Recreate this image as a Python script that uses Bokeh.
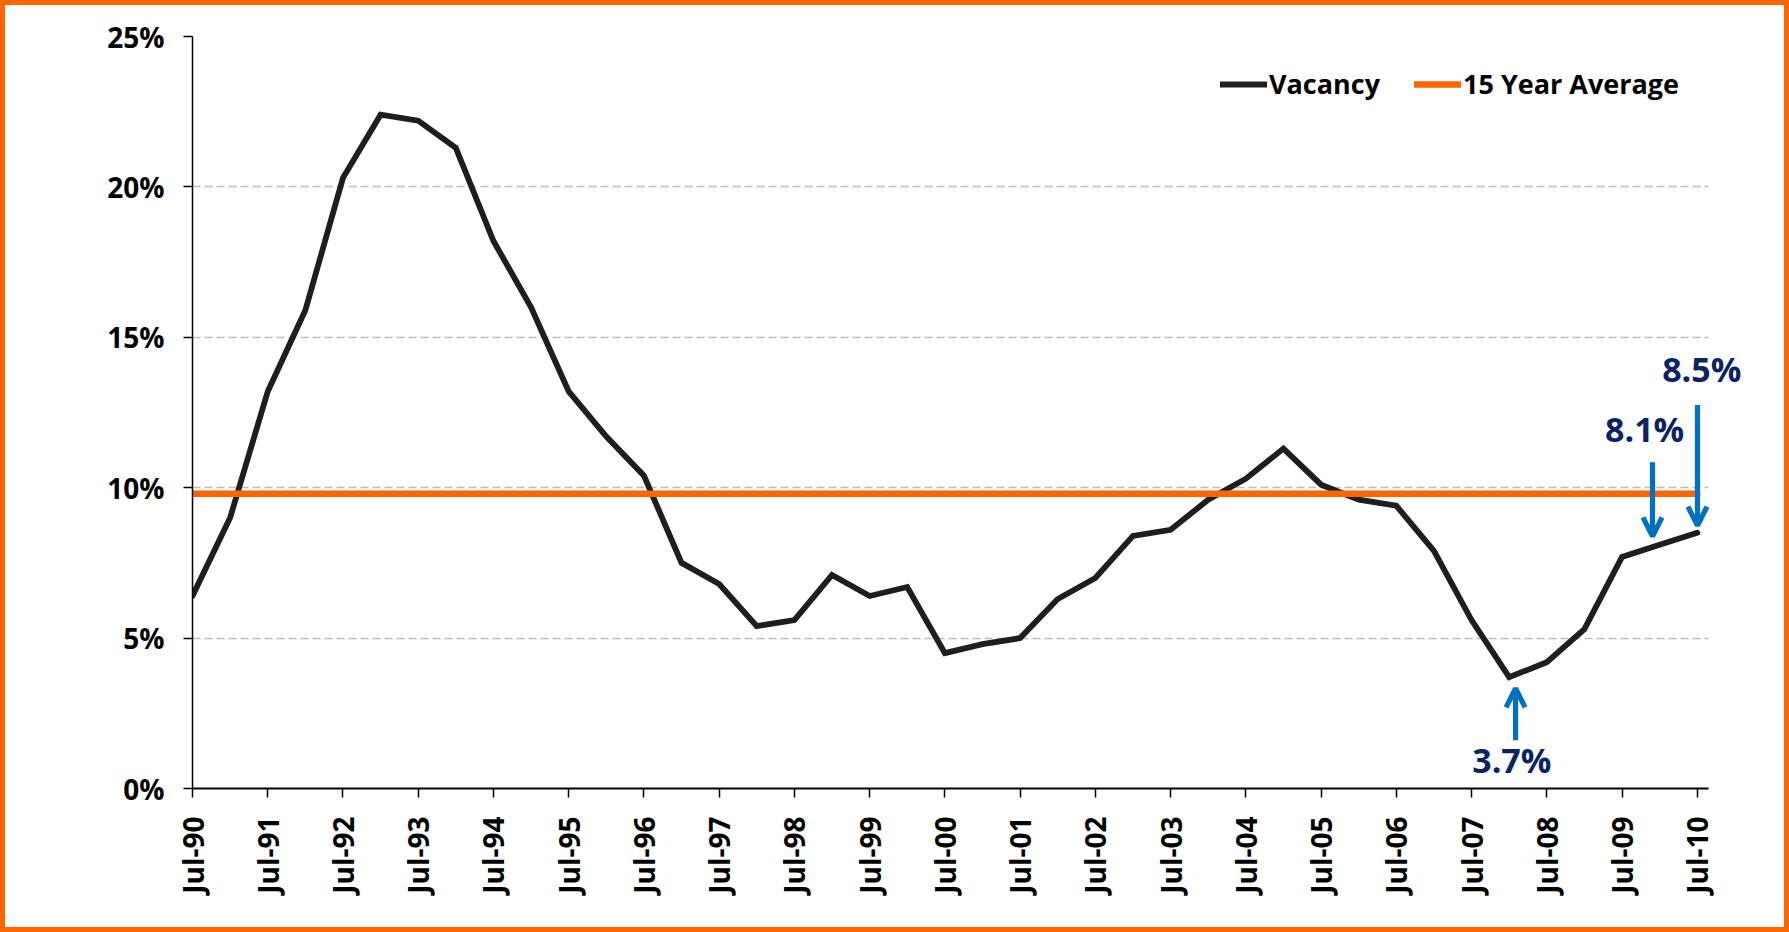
import math
from bokeh.plotting import figure
from bokeh.models import (Range1d, FixedTicker, PrintfTickFormatter, Legend, LegendItem,
                          Arrow, OpenHead, Label)
from bokeh.embed import file_html
from bokeh.resources import INLINE

# ---- data -------------------------------------------------------------
tick_labels = ["Jul-90", "Jul-91", "Jul-92", "Jul-93", "Jul-94", "Jul-95", "Jul-96",
               "Jul-97", "Jul-98", "Jul-99", "Jul-00", "Jul-01", "Jul-02", "Jul-03",
               "Jul-04", "Jul-05", "Jul-06", "Jul-07", "Jul-08", "Jul-09", "Jul-10"]
# semi-annual readings, Jul-90 .. Jul-10 (%)
vacancy = [6.4, 9.0, 13.2, 15.9, 20.3, 22.4, 22.2, 21.3, 18.2, 16.0,
           13.2, 11.7, 10.4, 7.5, 6.8, 5.4, 5.6, 7.1, 6.4, 6.7,
           4.5, 4.8, 5.0, 6.3, 7.0, 8.4, 8.6, 9.6, 10.3, 11.3,
           10.1, 9.6, 9.4, 7.9, 5.6, 3.7, 4.2, 5.3, 7.7, 8.1, 8.5]
average_15yr = 9.8
y_ticks = [0, 5, 10, 15, 20, 25]
# callouts: (index of point, direction of arrow)
callouts = [(35, "up"), (39, "down"), (40, "down")]

# ---- styling ------------------------------------------------------------
FONT = "Open Sans"
BLACK = "#1E1E1E"
ORANGE = "#FF6600"
ARROW_BLUE = "#0070C0"
NAVY = "#0B2461"

x = [i * 0.5 for i in range(len(vacancy))]
axis_end = x[-1] + 0.15

p = figure(frame_width=1580, frame_height=752,
           x_range=Range1d(0, 21.0), y_range=Range1d(0, 25),
           output_backend="svg", toolbar_location=None,
           min_border_left=187, min_border_right=12,
           min_border_top=31, min_border_bottom=139)
p.styles = {"border": "5px solid " + ORANGE}
p.outline_line_color = None
p.background_fill_color = "white"
p.border_fill_color = "white"

# grid
p.xgrid.grid_line_color = None
p.ygrid.grid_line_color = "#BFBFBF"
p.ygrid.grid_line_dash = "8 4"
p.ygrid.grid_line_width = 1.5
try:
    p.ygrid.cross_bounds = (0, axis_end)
except Exception:
    pass

# axes
p.yaxis.ticker = FixedTicker(ticks=y_ticks)
p.yaxis.formatter = PrintfTickFormatter(format="%d%%")
p.xaxis.ticker = FixedTicker(ticks=list(range(len(tick_labels))))
p.xaxis.major_label_overrides = {i: lab for i, lab in enumerate(tick_labels)}
p.xaxis.major_label_orientation = math.pi / 2
p.xaxis.bounds = (0, axis_end)
for ax in (p.xaxis, p.yaxis):
    ax.axis_line_color = "black"
    ax.major_tick_line_color = "black"
    ax.major_tick_line_width = 1.5
    ax.major_tick_out = 9
    ax.major_tick_in = 0
    ax.minor_tick_line_color = None
    ax.major_label_text_font = FONT
    ax.major_label_text_font_style = "bold"
    ax.major_label_text_font_size = "28px"
    ax.major_label_text_color = "black"
    ax.major_label_standoff = 19
p.yaxis.axis_line_width = 1.5
p.xaxis.axis_line_width = 2

# series
r_vac = p.line(x, vacancy, line_width=5.8, line_color=BLACK,
               line_join="miter", line_cap="round")
r_avg = p.line([x[0], x[-1]], [average_15yr, average_15yr], line_width=6.5,
               line_color=ORANGE, line_cap="round")

legend = Legend(items=[LegendItem(label="Vacancy", renderers=[r_vac]),
                       LegendItem(label="15 Year Average", renderers=[r_avg])],
                orientation="horizontal", location=(1028, 686),
                padding=0, margin=0, spacing=34, glyph_width=47, label_standoff=2,
                border_line_color=None, background_fill_alpha=0,
                label_text_font=FONT, label_text_font_style="bold",
                label_text_font_size="27px", label_text_color="black")
p.add_layout(legend)

# callouts
label_dx = {35: 0.035, 39: -0.2, 40: 0.06}
arrow_dx = {35: 0.085, 39: -0.095, 40: 0.003}
for idx, direction in callouts:
    v = vacancy[idx]
    xa = x[idx] + arrow_dx[idx]
    if direction == "up":
        tip, tail, ty = v - 0.37, v - 2.1, v - 2.76
    elif idx == 39:
        tip, tail, ty = v + 0.28, v + 2.75, v + 3.85
    else:
        tip, tail, ty = v + 0.24, v + 4.25, v + 5.45
    p.add_layout(Arrow(end=OpenHead(size=19, line_color=ARROW_BLUE, line_width=5.2),
                       x_start=xa, y_start=tail, x_end=xa, y_end=tip,
                       line_color=ARROW_BLUE, line_width=5.2))
    p.add_layout(Label(x=x[idx] + label_dx[idx], y=ty, text=f"{v:.1f}%",
                       text_font=FONT, text_font_style="bold", text_font_size="34px",
                       text_color=NAVY, text_align="center", text_baseline="middle"))

open("out.html", "w").write(file_html(p, INLINE))
